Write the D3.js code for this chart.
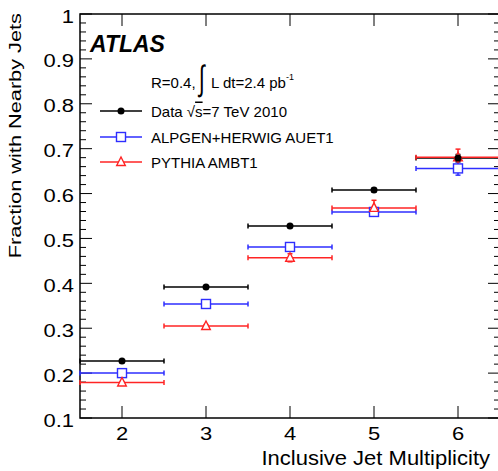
<!DOCTYPE html>
<html>
<head>
<meta charset="utf-8">
<script src="https://cdn.jsdelivr.net/npm/d3@7"></script>
<style>
  body { margin: 0; background: #fff; }
  text { font-family: "Liberation Sans", Arial, sans-serif; }
</style>
</head>
<body>
<svg id="chart" width="498" height="471"></svg>
<script>
// jet multiplicity bins
var nJets = [2, 3, 4, 5, 6];

// fraction with nearby jets
var dataVals   = [0.227, 0.392, 0.528, 0.608, 0.679];
var dataErr    = [0.003, 0.003, 0.003, 0.004, 0.008];
var alpgenVals = [0.200, 0.354, 0.481, 0.559, 0.656];
var alpgenErr  = [0.002, 0.003, 0.004, 0.006, 0.015];
var pythiaVals = [0.179, 0.305, 0.457, 0.568, 0.681];
var pythiaErr  = [0.002, 0.003, 0.009, 0.017, 0.018];

var yTicks = [0.1, 0.2, 0.3, 0.4, 0.5, 0.6, 0.7, 0.8, 0.9, 1];
var yTickLabels = ["0.1", "0.2", "0.3", "0.4", "0.5", "0.6", "0.7", "0.8", "0.9", "1"];

var blue = '#2e2eff', red = '#ff2424';

var svg = d3.select('#chart');

// plot frame (right edge sits just outside the window, like the original)
var pLeft = 80, pTop = 14, pRight = 500, pBottom = 418;

var x = d3.scaleLinear().domain([1.5, 6.5]).range([pLeft, pRight]);
var y = d3.scaleLinear().domain([0.1, 1]).range([pBottom, pTop]);

// text helper: sx stretches along the text direction
function addText(px, py, str, size, sx, anchor, rot) {
  return svg.append('text')
    .attr('transform', 'translate(' + px + ',' + py + ') rotate(' + (rot || 0) + ') scale(' + sx + ',1)')
    .attr('text-anchor', anchor || 'start')
    .attr('font-size', size)
    .text(str);
}

svg.append('rect')
  .attr('x', pLeft).attr('y', pTop)
  .attr('width', pRight - pLeft).attr('height', pBottom - pTop)
  .attr('fill', 'none').attr('stroke', '#000').attr('stroke-width', 1.5);

// ticks
var g = svg.append('g').attr('stroke', '#000').attr('stroke-width', 1);
d3.range(0, 46).forEach(function(k) {
  var v = 0.1 + k * 0.02;
  var len = (k % 5 === 0) ? 12 : 6;
  g.append('line').attr('x1', pLeft).attr('x2', pLeft + len).attr('y1', y(v)).attr('y2', y(v));
  g.append('line').attr('x1', pRight).attr('x2', pRight - len).attr('y1', y(v)).attr('y2', y(v));
});
nJets.forEach(function(n) {
  g.append('line').attr('x1', x(n)).attr('x2', x(n)).attr('y1', pBottom).attr('y2', pBottom - 12);
  g.append('line').attr('x1', x(n)).attr('x2', x(n)).attr('y1', pTop).attr('y2', pTop + 12);
});

// tick labels
yTicks.forEach(function(v, i) {
  addText(pLeft - 6, y(v) + 8.5, yTickLabels[i], 18, 1.22, 'end');
});
nJets.forEach(function(n) {
  addText(x(n), 440, String(n), 18, 1.22, 'middle');
});

// axis titles
addText(490, 465, 'Inclusive Jet Multiplicity', 20, 1.1, 'end');
addText(21, 13, 'Fraction with Nearby Jets', 16, 1.36, 'end', -90);

// series
function drawBars(vals, errs, color) {
  var s = svg.append('g').attr('stroke', color).attr('stroke-width', 1.5);
  nJets.forEach(function(n, i) {
    var cx = x(n), cy = y(vals[i]);
    s.append('line').attr('x1', x(n - 0.5)).attr('x2', x(n + 0.5)).attr('y1', cy).attr('y2', cy);
    [n - 0.5, n + 0.5].forEach(function(e) {
      s.append('line').attr('x1', x(e)).attr('x2', x(e)).attr('y1', cy - 2.5).attr('y2', cy + 2.5);
    });
    var y1 = y(vals[i] + errs[i]), y2 = y(vals[i] - errs[i]);
    s.append('line').attr('x1', cx).attr('x2', cx).attr('y1', y1).attr('y2', y2);
    [y1, y2].forEach(function(yy) {
      s.append('line').attr('x1', cx - 2.5).attr('x2', cx + 2.5).attr('y1', yy).attr('y2', yy);
    });
  });
}

function drawMarker(s, marker, cx, cy, color) {
  if (marker === 'circle') {
    s.append('circle').attr('cx', cx).attr('cy', cy).attr('r', 3.5).attr('fill', color);
  } else if (marker === 'square') {
    s.append('rect').attr('x', cx - 4.5).attr('y', cy - 4.5).attr('width', 9).attr('height', 9)
      .attr('fill', '#fff').attr('stroke', color).attr('stroke-width', 1.4);
  } else {
    s.append('path')
      .attr('d', 'M' + cx + ',' + (cy - 5) + 'L' + (cx + 4.3) + ',' + (cy + 3.5) + 'L' + (cx - 4.3) + ',' + (cy + 3.5) + 'Z')
      .attr('fill', '#fff').attr('stroke', color).attr('stroke-width', 1.4);
  }
}

function drawMarkers(vals, color, marker) {
  var s = svg.append('g');
  nJets.forEach(function(n, i) { drawMarker(s, marker, x(n), y(vals[i]), color); });
}

drawBars(alpgenVals, alpgenErr, blue);
drawBars(dataVals, dataErr, '#000');
drawBars(pythiaVals, pythiaErr, red);
drawMarkers(alpgenVals, blue, 'square');
drawMarkers(pythiaVals, red, 'triangle');
drawMarkers(dataVals, '#000', 'circle');

// ATLAS label
svg.append('text')
  .attr('x', 90).attr('y', 52)
  .attr('font-size', 23).attr('font-weight', 'bold').attr('font-style', 'italic')
  .text('ATLAS');

// lumi line
svg.append('text').attr('x', 151).attr('y', 88).attr('font-size', 15).text('R=0.4,');
svg.append('text')
  .attr('transform', 'translate(199,90) scale(0.75,1.25)')
  .attr('font-size', 28).attr('font-family', 'DejaVu Sans').attr('font-weight', 300)
  .text('\u222B');
var lumi = svg.append('text').attr('x', 211).attr('y', 88).attr('font-size', 15);
lumi.append('tspan').text('L dt=2.4 pb');
lumi.append('tspan').attr('font-size', 9).attr('dy', -8).text('-1');

// legend
var legendRows = [
  { label: 'data', color: '#000', marker: 'circle', y: 111 },
  { label: 'ALPGEN+HERWIG AUET1', color: blue, marker: 'square', y: 137 },
  { label: 'PYTHIA AMBT1', color: red, marker: 'triangle', y: 162 }
];
legendRows.forEach(function(r) {
  svg.append('line').attr('x1', 100).attr('x2', 142).attr('y1', r.y).attr('y2', r.y)
    .attr('stroke', r.color).attr('stroke-width', 1.5);
  drawMarker(svg, r.marker, 121, r.y, r.color);
  var t = svg.append('text').attr('x', 151).attr('y', r.y + 5.5).attr('font-size', 15);
  if (r.label === 'data') {
    t.append('tspan').text('Data \u221A');
    t.append('tspan').style('text-decoration', 'overline').text('s');
    t.append('tspan').text('=7 TeV 2010');
  } else {
    t.text(r.label);
  }
});
</script>
</body>
</html>
